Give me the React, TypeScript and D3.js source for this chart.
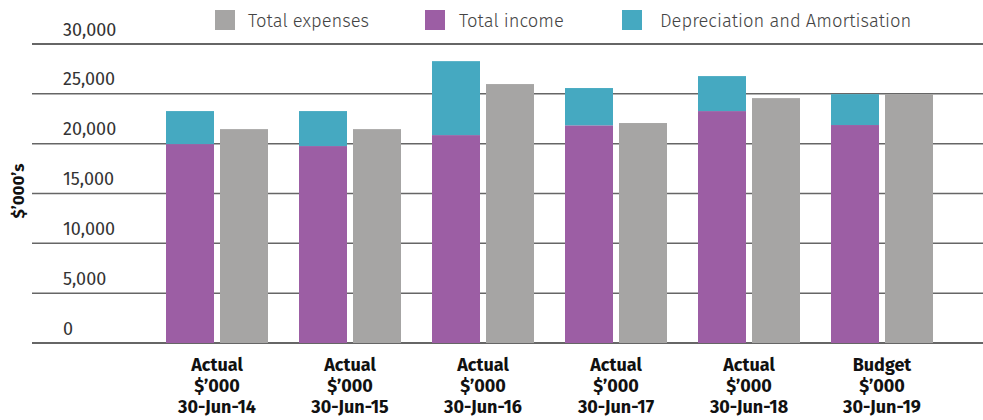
import React from "react";
import * as d3 from "d3";

const categories = ["30-Jun-14", "30-Jun-15", "30-Jun-16", "30-Jun-17", "30-Jun-18", "30-Jun-19"];
const labelTypes = ["Actual", "Actual", "Actual", "Actual", "Actual", "Budget"];
const totalIncome = [19960, 19760, 20860, 21840, 23270, 21870];
const depreciation = [3310, 3510, 7420, 3740, 3510, 3100];
const totalExpenses = [21460, 21460, 25980, 22070, 24570, 24970];
const yTicks = [0, 5000, 10000, 15000, 20000, 25000, 30000];
const legendItems = [
  { label: "Total expenses", color: "#A6A5A4" },
  { label: "Total income", color: "#9C5EA4" },
  { label: "Depreciation and Amortisation", color: "#45A9C1" },
];

const W = 983;
const H = 420;
const FONT = "'Fira Sans', 'Noto Sans', 'Open Sans', sans-serif";

export default function App() {
  const x = d3.scaleBand<string>().domain(categories).range([150.5, 948.5]).padding(0);
  const y = d3.scaleLinear().domain([0, 30000]).range([343, 44]);
  const inner = d3
    .scaleBand<string>()
    .domain(["income", "expenses"])
    .range([x.bandwidth() * (31 / 133) / 2, x.bandwidth() * (1 - (31 / 133) / 2)])
    .paddingInner(6 / 54);
  const fmt = d3.format(",");
  const legendSq = [215, 425, 622];
  const legendTx = [248, 459, 660];

  return (
    <svg width={W} height={H} style={{ position: "absolute", left: 0, top: 0, background: "#fff" }}>
      {yTicks.map((t) => (
        <g key={t}>
          <line x1={32} x2={W} y1={y(t)} y2={y(t)} stroke={t === 0 || t === 30000 ? "#333" : "#666"} strokeWidth={1.5} />
          <text x={63} y={y(t) - 8.5} fontFamily={FONT} fontSize={18} fill="#333" fontWeight={400}>
            {fmt(t)}
          </text>
        </g>
      ))}
      {categories.map((c, i) => {
        const x0 = x(c)!;
        return (
          <g key={c}>
            <rect
              x={x0 + inner("income")!}
              width={inner.bandwidth()}
              y={y(totalIncome[i])}
              height={y(0) - y(totalIncome[i])}
              fill={legendItems[1].color}
            />
            <rect
              x={x0 + inner("income")!}
              width={inner.bandwidth()}
              y={y(totalIncome[i] + depreciation[i])}
              height={y(totalIncome[i]) - y(totalIncome[i] + depreciation[i])}
              fill={legendItems[2].color}
            />
            <rect
              x={x0 + inner("expenses")!}
              width={inner.bandwidth()}
              y={y(totalExpenses[i])}
              height={y(0) - y(totalExpenses[i])}
              fill={legendItems[0].color}
            />
            <text
              x={x0 + x.bandwidth() / 2}
              textAnchor="middle"
              fontFamily={FONT}
              fontWeight={700}
              fontSize={18}
              fill="#111"
            >
              <tspan x={x0 + x.bandwidth() / 2} y={371}>{labelTypes[i]}</tspan>
              <tspan x={x0 + x.bandwidth() / 2} y={392}>$’000</tspan>
              <tspan x={x0 + x.bandwidth() / 2} y={413}>{c}</tspan>
            </text>
          </g>
        );
      })}
      <text
        transform={`translate(24,191) rotate(-90)`}
        textAnchor="middle"
        fontFamily={FONT}
        fontWeight={700}
        fontSize={17}
        fill="#111"
      >
        $’000’s
      </text>
      {legendItems.map((l, i) => (
        <g key={l.label}>
          <rect x={legendSq[i]} y={10} width={20} height={20} fill={l.color} />
          <text x={legendTx[i]} y={27} fontFamily={FONT} fontSize={18.4} fontWeight={300} fill="#444">
            {l.label}
          </text>
        </g>
      ))}
    </svg>
  );
}
